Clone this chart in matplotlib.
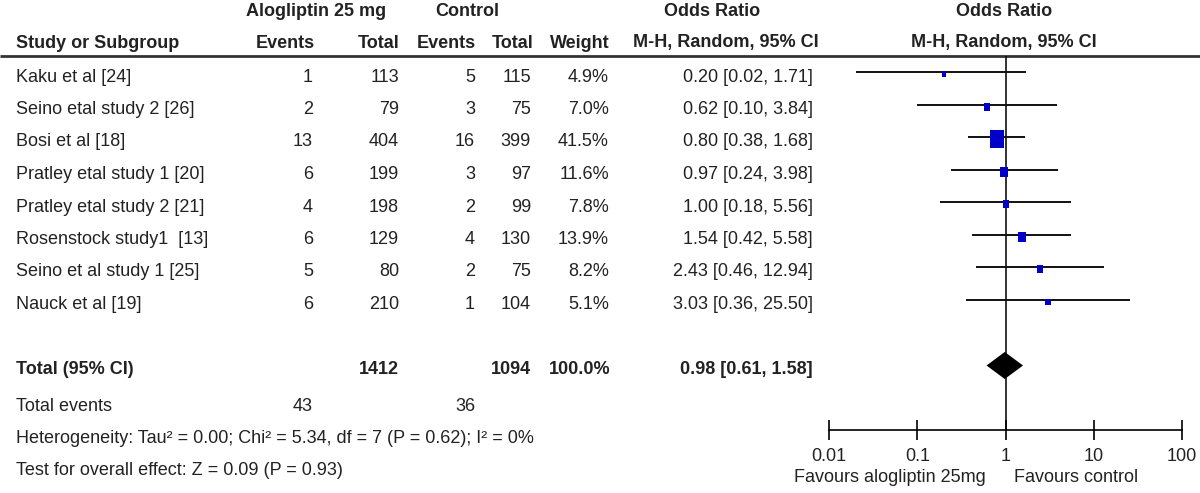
import numpy as np
import matplotlib
matplotlib.use('Agg')
import matplotlib.pyplot as plt
from matplotlib.patches import Polygon

plt.rcParams['font.family'] = ['Liberation Sans', 'DejaVu Sans']

# ---- data ----
studies = ['Kaku et al [24]', 'Seino etal study 2 [26]', 'Bosi et al [18]',
           'Pratley etal study 1 [20]', 'Pratley etal study 2 [21]',
           'Rosenstock study1  [13]', 'Seino et al study 1 [25]', 'Nauck et al [19]']
alo_events = [1, 2, 13, 6, 4, 6, 5, 6]
alo_total = [113, 79, 404, 199, 198, 129, 80, 210]
ctl_events = [5, 3, 16, 3, 2, 4, 2, 1]
ctl_total = [115, 75, 399, 97, 99, 130, 75, 104]
weights = [4.9, 7.0, 41.5, 11.6, 7.8, 13.9, 8.2, 5.1]
odds = [0.20, 0.62, 0.80, 0.97, 1.00, 1.54, 2.43, 3.03]
ci_low = [0.02, 0.10, 0.38, 0.24, 0.18, 0.42, 0.46, 0.36]
ci_high = [1.71, 3.84, 1.68, 3.98, 5.56, 5.58, 12.94, 25.50]

total_alo, total_ctl = 1412, 1094
total_or, total_low, total_high = 0.98, 0.61, 1.58
events_alo, events_ctl = 43, 36
heterogeneity = 'Heterogeneity: Tau² = 0.00; Chi² = 5.34, df = 7 (P = 0.62); I² = 0%'
overall = 'Test for overall effect: Z = 0.09 (P = 0.93)'
tick_vals = [0.01, 0.1, 1, 10, 100]
tick_labels = ['0.01', '0.1', '1', '10', '100']

W, H = 1200, 493
fs = 13
txt = '#222222'
blue = '#0000c8'

fig = plt.figure(figsize=(W / 100, H / 100), dpi=100)
ax = fig.add_axes([0, 0, 1, 1])
ax.set_xlim(0, W)
ax.set_ylim(H, 0)
ax.axis('off')

# forest panel, log scale from 0.01 to 100
fx0, fx1 = 829, 1182
fax = fig.add_axes([fx0 / W, 0, (fx1 - fx0) / W, 1])
fax.set_xscale('log')
fax.set_xlim(0.01, 100)
fax.set_ylim(H, 0)
fax.patch.set_alpha(0)
for s in ['top', 'left', 'right']:
    fax.spines[s].set_visible(False)
axis_y = 430
fax.spines['bottom'].set_position(('data', axis_y))
fax.spines['bottom'].set_linewidth(1.2)
fax.set_yticks([])
fax.set_xticks(tick_vals)
fax.set_xticklabels(tick_labels)
fax.minorticks_off()
fax.tick_params(axis='x', direction='inout', length=14, width=1.2, labelsize=fs,
                pad=6, colors='black', labelcolor=txt)

# headers
y_h1, y_h2 = 11, 43
bold = dict(fontsize=fs, fontweight='bold', color=txt, va='center')
ax.text(316, y_h1, 'Alogliptin 25 mg', ha='center', **bold)
ax.text(467, y_h1, 'Control', ha='center', **bold)
ax.text(712, y_h1, 'Odds Ratio', ha='center', **bold)
ax.text(1004, y_h1, 'Odds Ratio', ha='center', **bold)
ax.text(16, y_h2, 'Study or Subgroup', ha='left', **bold)
ax.text(315, y_h2, 'Events', ha='right', **bold)
ax.text(400, y_h2, 'Total', ha='right', **bold)
ax.text(476, y_h2, 'Events', ha='right', **bold)
ax.text(533, y_h2, 'Total', ha='right', **bold)
ax.text(610, y_h2, 'Weight', ha='right', **bold)
ax.text(726, y_h2, 'M-H, Random, 95% CI', ha='center', **bold)
ax.text(1004, y_h2, 'M-H, Random, 95% CI', ha='center', **bold)
ax.hlines(56, 0, W, color='#333333', lw=2)

# study rows
norm = dict(fontsize=fs, color=txt, va='center')
row0, step = 77, 32.5
rows = row0 + step * np.arange(len(studies))
# squares drawn a little taller than wide, as in the original
sq = [(-0.8, -1), (0.8, -1), (0.8, 1), (-0.8, 1)]
for i, y in enumerate(rows):
    ax.text(16, y, studies[i], ha='left', **norm)
    ax.text(313, y, str(alo_events[i]), ha='right', **norm)
    ax.text(399, y, str(alo_total[i]), ha='right', **norm)
    ax.text(475, y, str(ctl_events[i]), ha='right', **norm)
    ax.text(531, y, str(ctl_total[i]), ha='right', **norm)
    ax.text(609, y, '%.1f%%' % weights[i], ha='right', **norm)
    ax.text(813, y, '%.2f [%.2f, %.2f]' % (odds[i], ci_low[i], ci_high[i]), ha='right', **norm)

    fax.hlines(y - 5, ci_low[i], ci_high[i], color='#111111', lw=1.4)
    fax.plot(odds[i], y - 3, marker=sq, color=blue, markeredgewidth=0,
             markersize=2.0 * np.sqrt(weights[i]))

# totals
y_tot = rows[-1] + 2 * step
ax.text(16, y_tot, 'Total (95% CI)', ha='left', **bold)
ax.text(399, y_tot, str(total_alo), ha='right', **bold)
ax.text(531, y_tot, str(total_ctl), ha='right', **bold)
ax.text(610, y_tot, '%.1f%%' % sum(weights), ha='right', **bold)
ax.text(813, y_tot, '%.2f [%.2f, %.2f]' % (total_or, total_low, total_high), ha='right', **bold)
yd = y_tot - 4
fax.add_patch(Polygon([(total_low, yd), (total_or, yd - 13.5), (total_high, yd),
                       (total_or, yd + 13.5)], closed=True, color='black', lw=0))

y_ev = y_tot + 37
ax.text(16, y_ev, 'Total events', ha='left', **norm)
ax.text(313, y_ev, str(events_alo), ha='right', **norm)
ax.text(475, y_ev, str(events_ctl), ha='right', **norm)
ax.text(16, y_ev + 32, heterogeneity, ha='left', **norm)
ax.text(16, y_ev + 64, overall, ha='left', **norm)

# line of no effect
fax.vlines(1, 56, axis_y, color='#111111', lw=1.2, zorder=0)

ax.text(890, 478, 'Favours alogliptin 25mg', ha='center', **norm)
ax.text(1076, 478, 'Favours control', ha='center', **norm)

fig.savefig('out.png', dpi=100)
